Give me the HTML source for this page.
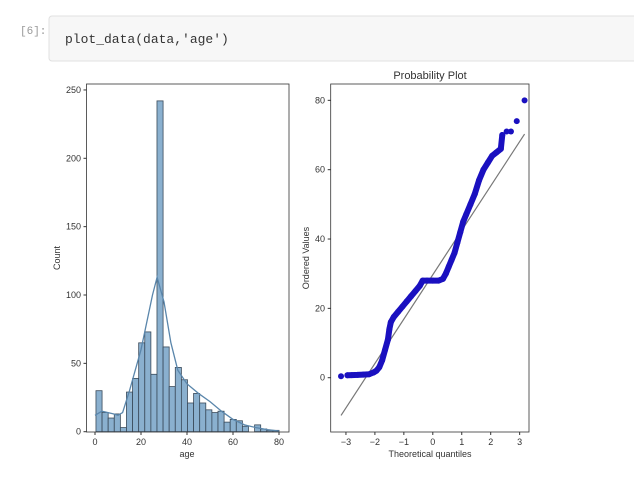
<!DOCTYPE html>
<html><head><meta charset="utf-8"><style>
body{margin:0;background:#fff;width:634px;height:484px;overflow:hidden;font-family:"Liberation Sans",sans-serif}
svg{position:absolute;left:0;top:0}
</style></head><body>
<svg width="634" height="484" id="c">
<text x="20" y="34" font-family="Liberation Mono,monospace" font-size="11" fill="#999">[6]:</text>
<rect x="49" y="16" width="600" height="45" rx="3" fill="#f7f7f7" stroke="#e0e0e0"/>
<text x="65" y="43" font-family="Liberation Mono,monospace" font-size="13" fill="#333">plot_data(data,'age')</text>
<g id="hist"></g>
<g id="prob"></g>
</svg>
<script>
const binCounts=[30,14,10,13,3,29,39,65,73,42,242,62,33,47,38,21,28,21,16,14,15,7,9,8,4,0,5,2,1,1];
const binStart=0.42, binEnd=80;
const kdeX=[0,3,8,10,12,15,20,25,27,30,33,36,40,45,50,55,60,65,70,75,80];
const kdeY=[12,15,13,12,14,30,60,100,113,95,65,45,35,28,22,15,9,5,3,1.5,0.5];
const histXTicks=[0,20,40,60,80];
const histYTicks=[0,50,100,150,200,250];
const qqQ=[-3.17,-2.95,-2.8,-2.6,-2.4,-2.2,-2.05,-1.95,-1.85,-1.75,-1.65,-1.55,-1.5,-1.45,-1.35,-1.2,-1.05,-0.9,-0.75,-0.6,-0.45,-0.35,-0.2,0,0.2,0.35,0.45,0.55,0.65,0.75,0.85,0.95,1.05,1.15,1.3,1.45,1.6,1.75,1.9,2.05,2.2,2.35,2.4,2.55,2.7,2.9,3.17];
const qqV=[0.42,0.7,0.75,0.8,0.9,1,1.5,2,3,5,8,11,14,16,17.5,19,20.5,22,23.5,25,26.5,28,28,28,28,28.5,30,32,34,36,39,42,45,47,50,53,57,60,62,64,65,66,70,71,71,74,80];
const fitSlope=12.8, fitIntercept=29.7;
const qqXTicks=[-3,-2,-1,0,1,2,3];
const qqYTicks=[0,20,40,60,80];
const NS='http://www.w3.org/2000/svg';
function mk(p,t,a,txt){const e=document.createElementNS(NS,t);for(const k in a)e.setAttribute(k,a[k]);if(txt!==undefined)e.textContent=txt;p.appendChild(e);return e;}
// histogram
const H=document.getElementById('hist');
const hx=v=>95+v*2.3, hy=v=>431.7-v*1.367;
const bw=(binEnd-binStart)/binCounts.length;
binCounts.forEach((c,i)=>{const r=mk(H,'rect',{x:hx(binStart+i*bw),y:hy(c),width:bw*2.3,height:hy(0)-hy(c),fill:'#8ab0cf',stroke:'#3a4a5a','stroke-width':0.8});

});
const kl=mk(H,'polyline',{points:kdeX.map((x,i)=>hx(x)+','+hy(kdeY[i])).join(' '),fill:'none',stroke:'#5a86ab','stroke-width':1.3});


const hf=mk(H,'rect',{x:86.5,y:84,width:202.5,height:348,fill:'none',stroke:'#333','stroke-width':0.8});


histXTicks.forEach(t=>{mk(H,'line',{x1:hx(t),x2:hx(t),y1:432,y2:435,stroke:'#333'});const e=mk(H,'text',{x:hx(t),y:445,'font-size':9,'text-anchor':'middle',fill:'#333'},t);

});
histYTicks.forEach(t=>{mk(H,'line',{x1:83.5,x2:86.5,y1:hy(t),y2:hy(t),stroke:'#333'});const e=mk(H,'text',{x:81,y:hy(t)+3,'font-size':9,'text-anchor':'end',fill:'#333'},t);

});
let e=mk(H,'text',{x:187,y:457,'font-size':9,'text-anchor':'middle',fill:'#333'},'age');


e=mk(H,'text',{x:60,y:258,'font-size':9,'text-anchor':'middle',fill:'#333',transform:'rotate(-90 60 258)'},'Count');


// probability plot
const P=document.getElementById('prob');
const px=v=>432.8+v*28.95, py=v=>377.7-v*3.467;
const fl=mk(P,'line',{x1:px(-3.17),y1:py(fitIntercept-3.17*fitSlope),x2:px(3.17),y2:py(fitIntercept+3.17*fitSlope),stroke:'#777','stroke-width':1.2});


const band=mk(P,'polyline',{points:qqQ.slice(1,-4).map((q,i)=>px(q)+','+py(qqV[i+1])).join(' '),fill:'none',stroke:'#1a10c0','stroke-width':6,'stroke-linecap':'round','stroke-linejoin':'round'});


qqQ.forEach((q,i)=>{const c=mk(P,'circle',{cx:px(q),cy:py(qqV[i]),r:3,fill:'#1a10c0'});

});
const pf=mk(P,'rect',{x:330.7,y:84,width:198.3,height:348,fill:'none',stroke:'#333','stroke-width':0.8});


qqXTicks.forEach(t=>{mk(P,'line',{x1:px(t),x2:px(t),y1:432,y2:435,stroke:'#333'});const e=mk(P,'text',{x:px(t),y:445,'font-size':9,'text-anchor':'middle',fill:'#333'},t<0?'\u2212'+(-t):t);

});
qqYTicks.forEach(t=>{mk(P,'line',{x1:327.7,x2:330.7,y1:py(t),y2:py(t),stroke:'#333'});const e=mk(P,'text',{x:325,y:py(t)+3,'font-size':9,'text-anchor':'end',fill:'#333'},t);

});
e=mk(P,'text',{x:430,y:79,'font-size':11,'text-anchor':'middle',fill:'#333'},'Probability Plot');


e=mk(P,'text',{x:430,y:457,'font-size':9,'text-anchor':'middle',fill:'#333'},'Theoretical quantiles');


e=mk(P,'text',{x:309,y:258,'font-size':9,'text-anchor':'middle',fill:'#333',transform:'rotate(-90 309 258)'},'Ordered Values');


</script>
</body></html>
